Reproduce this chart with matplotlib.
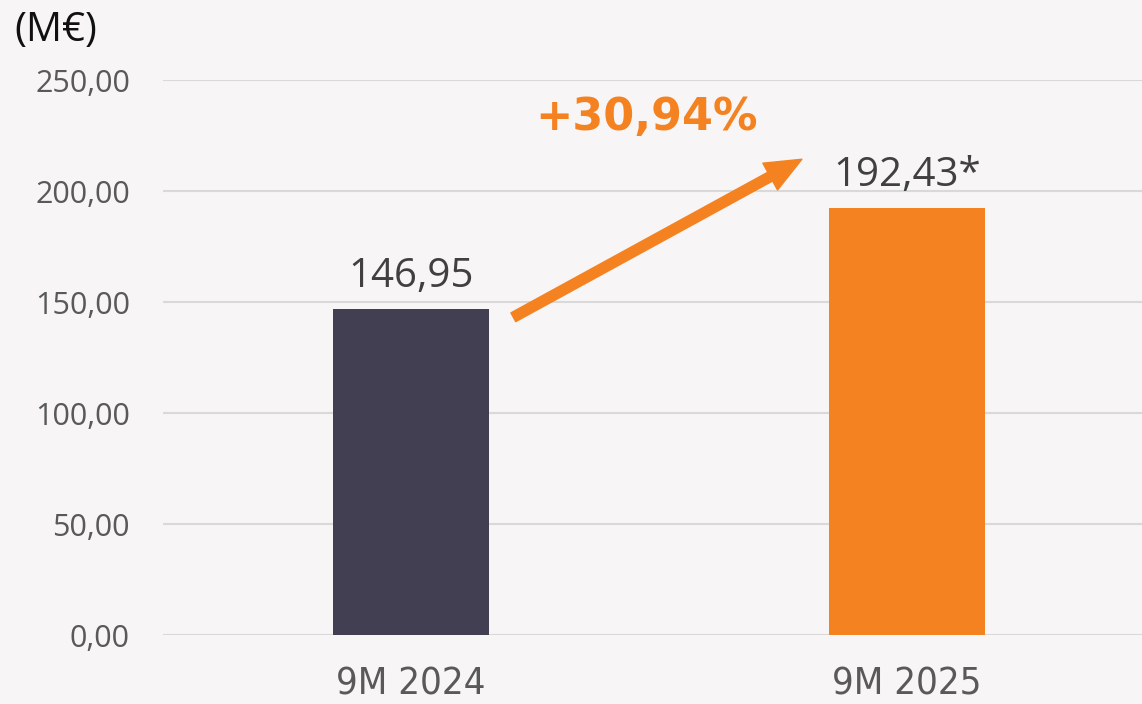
import matplotlib
matplotlib.use("Agg")
import matplotlib.pyplot as plt
from matplotlib import font_manager

categories = ["9M 2024", "9M 2025"]
values = [146.95, 192.43]
value_labels = ["146,95", "192,43*"]
yticks = [0, 50, 100, 150, 200, 250]
ytick_labels = ["0,00", "50,00", "100,00", "150,00", "200,00", "250,00"]
growth_label = "+30,94%"
unit_label = "(M€)"

bg = "#f7f5f6"
bar_colors = ["#413f51", "#f58220"]
orange = "#f58220"

cat_font = font_manager.FontProperties(family="DejaVu Sans", stretch="condensed", size=27.5)

fig = plt.figure(figsize=(11.42, 7.04), dpi=100)
fig.patch.set_facecolor(bg)
ax = fig.add_axes([0.143, 0.098, 0.857, 0.788])
ax.set_facecolor(bg)

x = list(range(len(categories)))
ax.bar(x, values, width=0.315, color=bar_colors, zorder=3)

ax.set_ylim(0, 250)
ax.set_xlim(-0.5, 1.474)
ax.set_yticks(yticks)
ax.set_yticklabels(ytick_labels, fontfamily="Open Sans", fontsize=22, color="#595959")
ax.set_xticks(x)
ax.set_xticklabels(categories, color="#595959", fontproperties=cat_font)
ax.tick_params(axis="y", length=0, pad=24)
ax.tick_params(axis="x", length=0, pad=23)
ax.grid(axis="y", color="#d9d9d9", linewidth=1.5, zorder=0)
for s in ax.spines.values():
    s.set_visible(False)

# value labels above bars
for xi, v, lab in zip(x, values, value_labels):
    ax.annotate(lab, (xi, v), xytext=(0, 16), textcoords="offset points",
                ha="center", va="baseline", fontfamily="Open Sans",
                fontsize=29, color="#404040")

# growth arrow
ax.annotate("", xy=(0.788, 214.4), xytext=(0.206, 143.2),
            arrowprops=dict(arrowstyle="simple,head_length=1.3,head_width=1.1,tail_width=0.36",
                            mutation_scale=20, color=orange, shrinkA=0, shrinkB=0),
            zorder=4)
ax.text(0.474, 233, growth_label, ha="center", va="center", fontfamily="DejaVu Sans",
        fontweight="bold", fontsize=32, color=orange)

fig.text(0.013, 0.957, unit_label, ha="left", va="center", fontfamily="Open Sans",
         fontsize=29, color="#111111")

fig.savefig("out.png", dpi=100, facecolor=bg)
